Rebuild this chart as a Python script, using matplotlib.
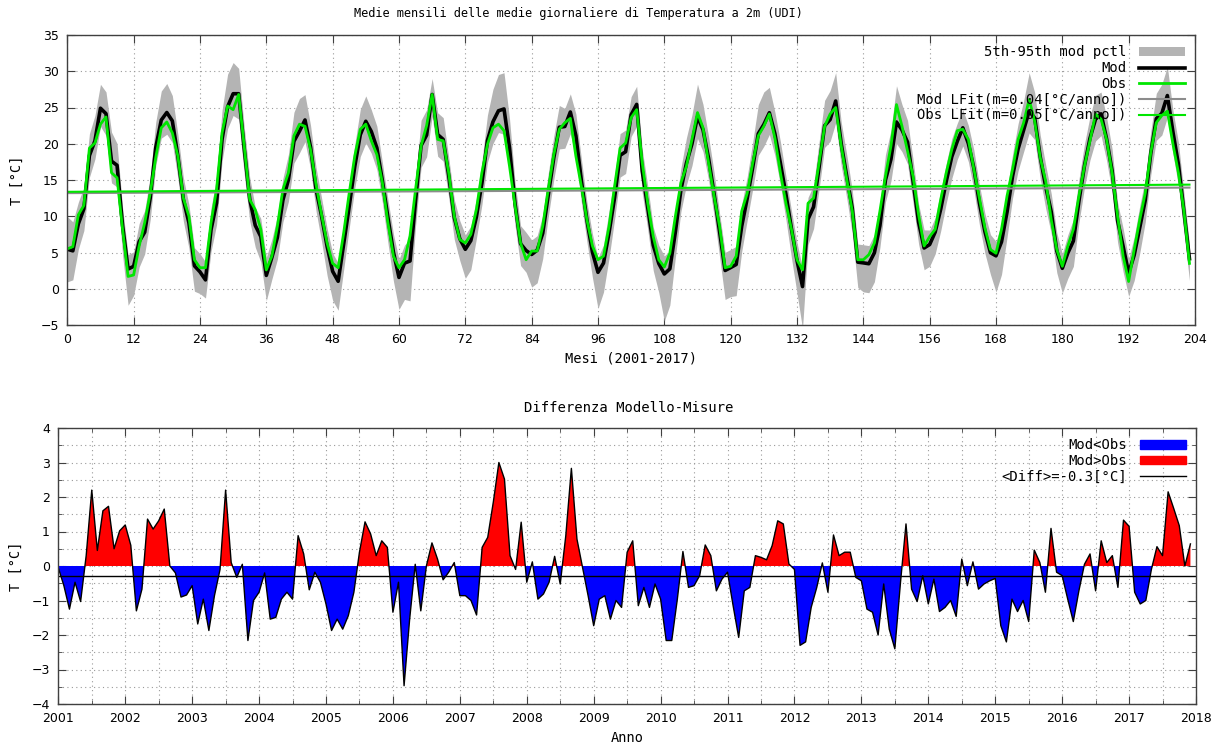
import numpy as np
import matplotlib
matplotlib.use("Agg")
from matplotlib import pyplot as plt
from matplotlib.patches import Patch
from matplotlib.lines import Line2D

# Temperatura osservata (medie mensili), una riga per anno 2001..2017
obs = [
    5.5, 5.8, 10.2, 11.5, 19.4, 20.1, 22.7, 23.7, 16.0, 15.3, 8.2, 1.7,
    1.9, 5.9, 9.1, 13.2, 18.1, 22.2, 23.0, 21.5, 18.3, 12.5, 10.0, 4.0,
    2.9, 2.9, 9.1, 13.7, 21.5, 25.2, 24.7, 26.8, 19.7, 12.3, 10.9, 8.2,
    2.6, 4.5, 8.6, 13.7, 16.0, 21.1, 22.7, 22.4, 19.2, 14.4, 10.2, 6.3,
    3.5, 2.9, 7.7, 13.2, 18.3, 22.0, 22.7, 20.4, 18.5, 14.6, 9.1, 4.5,
    2.9, 4.0, 7.3, 13.7, 19.7, 22.5, 26.8, 20.6, 20.4, 16.0, 10.0, 6.8,
    6.3, 7.5, 10.9, 16.0, 19.9, 22.2, 22.7, 21.8, 16.9, 11.4, 6.3, 4.0,
    5.2, 5.2, 8.6, 13.7, 18.5, 22.0, 22.9, 23.5, 18.3, 14.1, 9.5, 5.9,
    4.0, 4.5, 8.6, 14.1, 19.4, 20.1, 23.6, 24.7, 17.4, 11.8, 7.2, 4.0,
    3.0, 4.9, 10.0, 14.6, 16.9, 20.6, 24.3, 22.2, 17.4, 12.8, 8.6, 2.9,
    3.1, 4.5, 10.7, 13.2, 17.4, 21.1, 22.4, 24.1, 20.8, 16.0, 11.8, 8.2,
    4.0, 2.6, 11.8, 12.5, 17.4, 22.4, 24.1, 25.0, 19.7, 15.1, 10.7, 4.0,
    4.0, 4.7, 6.3, 10.7, 15.5, 19.7, 25.4, 22.4, 19.0, 15.5, 10.2, 5.9,
    7.2, 8.2, 12.3, 16.0, 19.2, 21.8, 22.0, 20.6, 16.5, 12.5, 8.4, 5.4,
    4.9, 8.2, 12.8, 16.5, 20.6, 22.9, 26.1, 23.1, 18.1, 14.8, 9.5, 5.4,
    3.1, 5.9, 8.2, 12.8, 16.9, 20.4, 24.1, 23.4, 20.6, 16.0, 10.0, 4.5,
    1.0, 5.4, 9.5, 13.2, 18.8, 22.9, 23.9, 24.5, 20.0, 16.0, 10.7, 3.5,
]

# Differenza Modello-Misure (pannello inferiore)
diff = [
    -0.05, -0.57, -1.25, -0.47, -1.03, 0.30, 2.20, 0.45, 1.60, 1.73, 0.50, 1.02,
    1.19, 0.60, -1.30, -0.67, 1.36, 1.07, 1.31, 1.65, 0.00, -0.20, -0.90, -0.84,
    -0.57, -1.68, -0.96, -1.87, -0.86, -0.10, 2.20, 0.10, -0.33, 0.05, -2.16, -1.00,
    -0.76, -0.20, -1.54, -1.49, -0.96, -0.76, -0.96, 0.88, 0.35, -0.69, -0.18, -0.47,
    -1.10, -1.87, -1.54, -1.83, -1.44, -0.76, 0.40, 1.28, 0.93, 0.30, 0.73, 0.54,
    -1.34, -0.47, -3.47, -1.54, 0.05, -1.30, 0.00, 0.67, 0.20, -0.40, -0.18, 0.10,
    -0.86, -0.86, -1.00, -1.42, 0.54, 0.83, 1.85, 3.00, 2.52, 0.30, -0.10, 1.27,
    -0.47, 0.12, -0.96, -0.81, -0.47, 0.28, -0.52, 0.88, 2.83, 0.78, -0.04, -0.86,
    -1.73, -0.96, -0.86, -1.54, -1.00, -1.20, 0.40, 0.73, -1.15, -0.62, -1.20, -0.52,
    -0.96, -2.16, -2.16, -0.96, 0.42, -0.62, -0.57, -0.28, 0.61, 0.30, -0.72, -0.38,
    -0.18, -1.15, -2.07, -0.72, -0.62, 0.30, 0.25, 0.18, 0.59, 1.31, 1.22, 0.06,
    -0.10, -2.30, -2.20, -1.20, -0.62, 0.09, -0.76, 0.90, 0.30, 0.40, 0.40, -0.33,
    -0.43, -1.25, -1.34, -2.00, -0.52, -1.83, -2.40, -0.50, 1.22, -0.67, -1.03, -0.28,
    -1.10, -0.38, -1.32, -1.20, -1.00, -1.46, 0.20, -0.57, 0.12, -0.67, -0.52, -0.43,
    -0.36, -1.73, -2.20, -0.96, -1.32, -1.00, -1.61, 0.46, 0.10, -0.76, 1.09, -0.18,
    -0.28, -0.96, -1.61, -0.72, 0.05, 0.35, -0.72, 0.73, 0.10, 0.30, -0.62, 1.33,
    1.15, -0.76, -1.10, -1.00, -0.10, 0.56, 0.30, 2.15, 1.67, 1.17, 0.00, 0.64,
]

# banda 5th-95th pctl: distanza sopra / sotto la curva del modello
band_up = [
    4.5, 4.0, 3.0, 3.0, 3.0, 3.5, 3.3, 3.0, 4.0, 3.0, 2.5, 2.0,
    2.0, 2.5, 3.0, 3.0, 3.5, 4.0, 4.0, 3.5, 3.0, 3.0, 2.5, 2.5,
    2.5, 2.5, 3.0, 3.5, 4.0, 4.5, 4.3, 3.5, 3.0, 3.0, 2.5, 2.5,
    2.5, 2.5, 3.0, 3.0, 3.5, 4.0, 4.5, 3.5, 3.0, 3.0, 2.5, 2.5,
    2.5, 2.5, 3.0, 3.0, 3.0, 3.5, 3.5, 3.0, 3.0, 2.5, 2.5, 2.5,
    2.5, 2.5, 3.0, 3.0, 3.5, 3.5, 2.2, 3.0, 3.0, 2.5, 2.5, 2.5,
    2.0, 2.0, 2.5, 3.0, 3.5, 4.5, 5.0, 5.0, 4.0, 3.0, 2.5, 2.5,
    2.0, 2.0, 2.5, 3.0, 3.0, 3.0, 2.5, 2.5, 3.0, 3.0, 2.5, 2.5,
    2.0, 2.5, 3.0, 3.0, 3.0, 3.0, 2.5, 2.5, 3.0, 3.0, 2.5, 2.5,
    2.5, 2.5, 3.0, 3.0, 3.5, 4.0, 4.5, 3.5, 3.0, 3.0, 2.5, 2.5,
    2.5, 2.5, 3.0, 3.0, 3.5, 4.0, 4.5, 3.5, 3.0, 3.0, 2.5, 2.5,
    2.5, 2.5, 3.0, 3.0, 3.5, 3.5, 4.0, 3.9, 3.0, 3.0, 2.5, 2.5,
    2.5, 2.5, 2.5, 3.0, 3.5, 4.0, 5.0, 3.5, 3.0, 3.0, 2.5, 2.5,
    2.0, 2.0, 2.5, 2.5, 2.5, 2.5, 2.5, 2.5, 2.5, 2.5, 2.5, 2.5,
    2.0, 2.5, 3.0, 3.0, 3.5, 4.0, 5.3, 3.5, 3.0, 3.0, 2.5, 2.5,
    2.0, 2.5, 3.0, 3.0, 3.0, 3.0, 3.3, 3.0, 3.0, 3.0, 2.5, 2.5,
    2.0, 2.5, 3.0, 3.0, 3.0, 3.5, 4.0, 4.0, 3.0, 3.0, 2.5, 2.0,
]
band_dn = [
    4.5, 4.0, 3.5, 3.0, 3.0, 2.5, 2.5, 3.0, 3.0, 3.0, 4.0, 5.0,
    4.0, 3.5, 3.0, 3.0, 2.5, 2.5, 3.0, 3.0, 3.0, 3.0, 3.5, 3.5,
    3.0, 2.5, 3.0, 3.0, 3.0, 3.0, 3.0, 3.5, 3.5, 3.0, 3.0, 3.5,
    3.5, 3.0, 3.0, 3.0, 3.0, 3.0, 3.0, 3.0, 3.0, 3.0, 3.5, 4.0,
    4.0, 4.0, 3.5, 3.0, 3.0, 3.0, 3.0, 3.0, 3.0, 3.0, 3.5, 4.0,
    4.4, 5.0, 5.5, 3.5, 3.0, 3.0, 3.0, 3.0, 3.0, 3.0, 3.0, 3.0,
    4.0, 4.0, 3.0, 3.0, 3.0, 3.0, 3.0, 3.5, 3.5, 3.0, 3.0, 3.0,
    4.5, 4.5, 3.5, 3.0, 3.0, 3.0, 3.0, 3.0, 3.0, 3.0, 3.0, 3.5,
    5.0, 4.0, 3.5, 3.0, 3.0, 3.0, 3.0, 3.0, 3.0, 3.0, 3.5, 4.0,
    6.5, 5.0, 3.5, 3.0, 3.0, 3.0, 3.0, 3.0, 3.0, 3.0, 3.5, 4.0,
    4.0, 4.3, 3.5, 3.0, 3.0, 3.0, 3.0, 3.0, 3.0, 3.0, 3.5, 4.0,
    4.5, 5.8, 3.5, 3.0, 3.0, 3.0, 3.0, 3.0, 3.0, 3.0, 3.5, 3.5,
    4.0, 4.0, 4.0, 3.0, 3.0, 3.0, 3.0, 3.0, 3.0, 3.0, 3.0, 3.0,
    3.0, 3.0, 3.0, 3.0, 3.0, 2.5, 2.5, 2.5, 3.0, 3.0, 3.0, 3.0,
    5.0, 4.5, 3.5, 3.0, 3.0, 3.0, 3.0, 3.0, 3.0, 3.0, 3.0, 3.0,
    3.4, 3.5, 3.5, 3.0, 3.0, 3.0, 3.0, 3.0, 3.0, 3.0, 3.0, 3.5,
    3.2, 3.5, 3.5, 3.0, 3.0, 3.0, 3.0, 3.0, 3.0, 3.0, 3.0, 3.0,
]

first_year = 2001
last_year = 2018
diff_mean_label = "<Diff>=-0.3[°C]"
mod_fit_label = "Mod LFit(m=0.04[°C/anno])"
obs_fit_label = "Obs LFit(m=0.05[°C/anno])"

MONO = "DejaVu Sans Mono"
GREEN = "#00e600"
BAND = "#b4b4b4"
GRID = dict(color="#9a9a9a", linestyle=(0, (1, 3)), linewidth=0.8)

obs = np.array(obs)
diff = np.array(diff)
mod = obs + diff
months = np.arange(len(obs))
p95 = mod + np.array(band_up)
p5 = mod - np.array(band_dn)

W, H = 1217, 749
fig = plt.figure(figsize=(W / 100, H / 100), dpi=100)


def px_axes(l, t, r, b):
    return fig.add_axes([l / W, 1 - b / H, (r - l) / W, (b - t) / H])


def style_axes(ax):
    for s in ax.spines.values():
        s.set_color("#404040")
        s.set_linewidth(1.0)
    ax.tick_params(which="both", direction="in", top=True, right=True,
                   labelsize=9, color="#404040", pad=6)
    ax.tick_params(which="major", length=6)
    ax.tick_params(which="minor", length=3)
    ax.set_axisbelow(True)


# ---------------- pannello superiore ----------------
ax1 = px_axes(67.3, 35, 1195, 325)
style_axes(ax1)
ax1.fill_between(months, p5, p95, color=BAND, linewidth=0, label="5th-95th mod pctl")
ax1.plot(months, mod, color="black", linewidth=2.6, label="Mod")
ax1.plot(months, obs, color=GREEN, linewidth=2.0, label="Obs")

cm = np.polyfit(months, mod, 1)
co = np.polyfit(months, obs, 1)
ax1.plot(months, np.polyval(cm, months), color="#8c8c8c", linewidth=1.5, label=mod_fit_label)
ax1.plot(months, np.polyval(co, months), color=GREEN, linewidth=1.5, label=obs_fit_label)

ax1.set_xlim(0, 204)
ax1.set_ylim(-5, 35)
ax1.set_xticks(np.arange(0, 205, 12))
ax1.set_yticks(np.arange(-5, 36, 5))
ax1.grid(True, which="major", **GRID)
ax1.set_ylabel("T [°C]", fontsize=9.8, family=MONO, labelpad=12)
ax1.set_xlabel("Mesi (2001-2017)", fontsize=9.8, family=MONO, labelpad=4)
fig.text(578 / W, 1 - 13 / H,
         "Medie mensili delle medie giornaliere di Temperatura a 2m (UDI)",
         fontsize=8.6, family=MONO, ha="center", va="center")

leg1 = ax1.legend(loc="upper right", frameon=False, markerfirst=False,
                  prop={"family": MONO, "size": 10}, handlelength=3.3,
                  handleheight=0.55, labelspacing=0.12, borderaxespad=0.35,
                  handletextpad=0.9)

# ---------------- pannello inferiore ----------------
years = first_year + months / 12.0
ax2 = px_axes(58.3, 428, 1196, 704)
style_axes(ax2)
ax2.fill_between(years, diff, 0, where=diff <= 0, interpolate=True,
                 color="#0000ff", linewidth=0)
ax2.fill_between(years, diff, 0, where=diff >= 0, interpolate=True,
                 color="#ff0000", linewidth=0)
ax2.plot(years, diff, color="black", linewidth=1.0)
ax2.axhline(diff.mean(), color="black", linewidth=1.0)

ax2.set_xlim(first_year, last_year)
ax2.set_ylim(-4, 4)
ax2.set_xticks(np.arange(first_year, last_year + 1, 1))
ax2.set_xticks(np.arange(first_year + 0.5, last_year, 1), minor=True)
ax2.set_yticks(np.arange(-4, 5, 1))
ax2.set_yticks(np.arange(-3.5, 4, 1), minor=True)
ax2.grid(True, which="both", **GRID)
ax2.set_ylabel("T [°C]", fontsize=9.8, family=MONO, labelpad=6)
ax2.set_xlabel("Anno", fontsize=9.8, family=MONO, labelpad=4)
fig.text(629 / W, 1 - 408 / H, "Differenza Modello-Misure",
         fontsize=10, family=MONO, ha="center", va="center")

handles = [Patch(color="#0000ff"), Patch(color="#ff0000"),
           Line2D([], [], color="black", linewidth=1.0)]
leg2 = ax2.legend(handles, ["Mod<Obs", "Mod>Obs", diff_mean_label],
                  loc="upper right", frameon=False, markerfirst=False,
                  prop={"family": MONO, "size": 10}, handlelength=3.3,
                  handleheight=0.55, labelspacing=0.12, borderaxespad=0.35,
                  handletextpad=0.9)

fig.savefig("out.png", dpi=100)
